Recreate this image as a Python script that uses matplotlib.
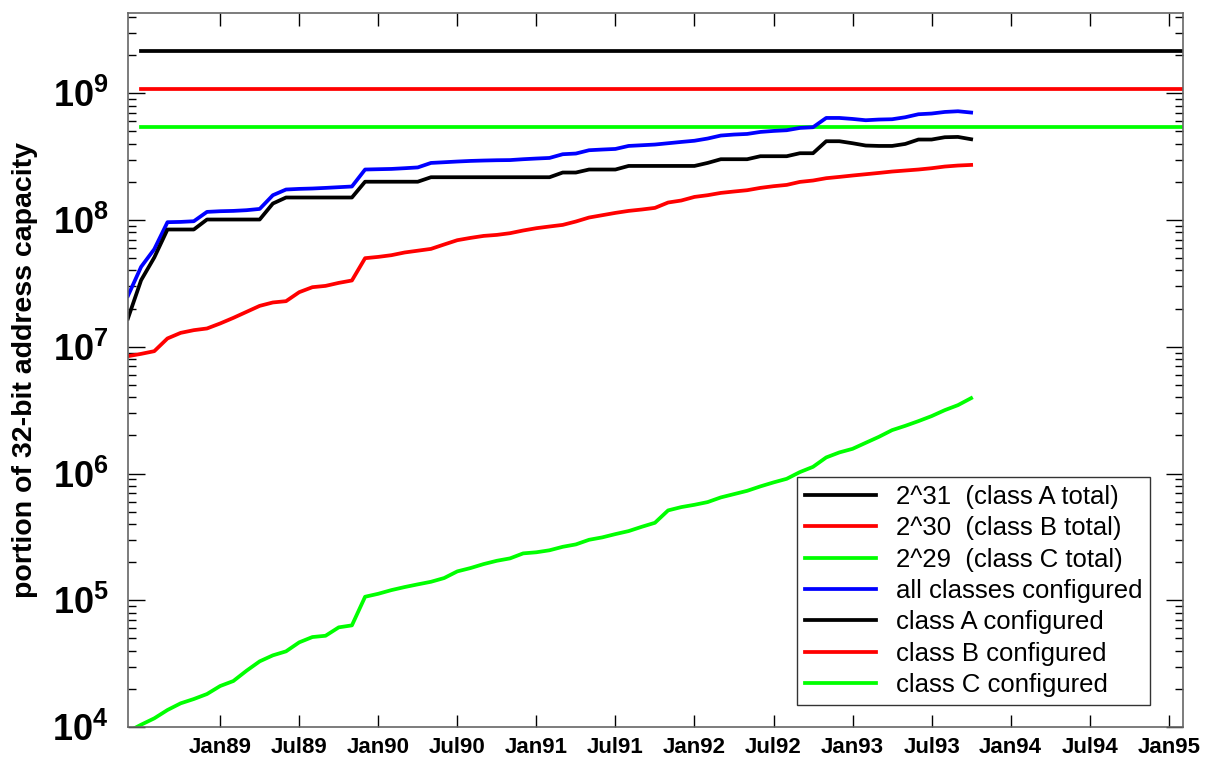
import numpy as np
import pandas as pd
import matplotlib
matplotlib.use("Agg")
import matplotlib.pyplot as plt
from matplotlib.ticker import LogLocator, NullFormatter

plt.rcParams['font.family'] = ['Liberation Sans', 'DejaVu Sans']
plt.rcParams['mathtext.fontset'] = 'custom'
plt.rcParams['mathtext.rm'] = 'Liberation Sans'
plt.rcParams['mathtext.bf'] = 'Liberation Sans:bold'

# ---- data ----
months = pd.date_range('1988-06-01', '1993-10-01', freq='MS')
xdates = months.year + (months.month - 1) / 12.0

class_a_total = 2.0 ** 31
class_b_total = 2.0 ** 30
class_c_total = 2.0 ** 29
totals_start = 1988.5

all_configured = [2.52e7, 4.27e7, 5.89e7, 9.61e7, 9.66e7, 9.78e7, 1.159e8, 1.173e8, 1.180e8, 1.195e8,
                  1.223e8, 1.569e8, 1.740e8, 1.760e8, 1.772e8, 1.792e8, 1.815e8, 1.838e8, 2.502e8, 2.516e8,
                  2.529e8, 2.562e8, 2.599e8, 2.820e8, 2.856e8, 2.893e8, 2.925e8, 2.946e8, 2.962e8, 2.97e8,
                  3.017e8, 3.055e8, 3.088e8, 3.303e8, 3.345e8, 3.552e8, 3.597e8, 3.636e8, 3.840e8, 3.889e8,
                  3.939e8, 4.033e8, 4.129e8, 4.220e8, 4.392e8, 4.638e8, 4.723e8, 4.775e8, 4.952e8, 5.043e8,
                  5.108e8, 5.325e8, 5.394e8, 6.386e8, 6.386e8, 6.271e8, 6.125e8, 6.203e8, 6.237e8, 6.467e8,
                  6.830e8, 6.917e8, 7.120e8, 7.211e8, 7.043e8]

class_a = [1.672e7, 3.351e7, 5.063e7, 8.417e7, 8.417e7, 8.417e7, 1.009e8, 1.009e8, 1.009e8, 1.009e8,
           1.009e8, 1.349e8, 1.505e8, 1.505e8, 1.505e8, 1.505e8, 1.505e8, 1.505e8, 2.005e8, 2.005e8,
           2.005e8, 2.005e8, 2.005e8, 2.175e8, 2.175e8, 2.175e8, 2.175e8, 2.175e8, 2.175e8, 2.175e8,
           2.175e8, 2.175e8, 2.175e8, 2.369e8, 2.369e8, 2.502e8, 2.502e8, 2.502e8, 2.67e8, 2.67e8,
           2.67e8, 2.67e8, 2.67e8, 2.67e8, 2.820e8, 3.017e8, 3.017e8, 3.017e8, 3.186e8, 3.186e8,
           3.186e8, 3.364e8, 3.364e8, 4.183e8, 4.183e8, 4.033e8, 3.868e8, 3.840e8, 3.840e8, 3.982e8,
           4.314e8, 4.314e8, 4.498e8, 4.523e8, 4.337e8]

class_b = [8.43e6, 8.79e6, 9.23e6, 1.163e7, 1.287e7, 1.352e7, 1.394e7, 1.527e7, 1.690e7, 1.885e7,
           2.102e7, 2.236e7, 2.289e7, 2.695e7, 2.951e7, 3.022e7, 3.191e7, 3.333e7, 4.998e7, 5.117e7,
           5.278e7, 5.543e7, 5.727e7, 5.917e7, 6.410e7, 6.930e7, 7.225e7, 7.492e7, 7.630e7, 7.869e7,
           8.265e7, 8.617e7, 8.887e7, 9.150e7, 9.73e7, 1.046e8, 1.091e8, 1.138e8, 1.180e8, 1.210e8,
           1.246e8, 1.374e8, 1.425e8, 1.521e8, 1.569e8, 1.636e8, 1.678e8, 1.718e8, 1.792e8, 1.848e8,
           1.892e8, 1.998e8, 2.049e8, 2.137e8, 2.188e8, 2.244e8, 2.297e8, 2.352e8, 2.412e8, 2.457e8,
           2.502e8, 2.562e8, 2.641e8, 2.690e8, 2.720e8]

class_c = [9.2e3, 1.043e4, 1.171e4, 1.362e4, 1.538e4, 1.663e4, 1.821e4, 2.106e4, 2.306e4, 2.780e4,
           3.297e4, 3.677e4, 3.954e4, 4.656e4, 5.127e4, 5.248e4, 6.114e4, 6.339e4, 1.066e5, 1.125e5,
           1.203e5, 1.271e5, 1.335e5, 1.399e5, 1.497e5, 1.690e5, 1.795e5, 1.930e5, 2.049e5, 2.140e5,
           2.344e5, 2.391e5, 2.480e5, 2.641e5, 2.759e5, 3.000e5, 3.134e5, 3.327e5, 3.513e5, 3.799e5,
           4.086e5, 5.117e5, 5.433e5, 5.665e5, 5.950e5, 6.478e5, 6.878e5, 7.302e5, 7.913e5, 8.506e5,
           9.083e5, 1.026e6, 1.129e6, 1.339e6, 1.467e6, 1.566e6, 1.747e6, 1.947e6, 2.199e6, 2.378e6,
           2.590e6, 2.837e6, 3.162e6, 3.463e6, 3.932e6]

xtick_pos = [1989.0, 1989.5, 1990.0, 1990.5, 1991.0, 1991.5, 1992.0, 1992.5,
             1993.0, 1993.5, 1994.0, 1994.5, 1995.0]
xtick_labels = ['Jan89', 'Jul89', 'Jan90', 'Jul90', 'Jan91', 'Jul91', 'Jan92', 'Jul92',
                'Jan93', 'Jul93', 'Jan94', 'Jul94', 'Jan95']
ytick_pos = [1e4, 1e5, 1e6, 1e7, 1e8, 1e9]
ytick_labels = [r'$\mathbf{10^{4}}$', r'$\mathbf{10^{5}}$', r'$\mathbf{10^{6}}$',
                r'$\mathbf{10^{7}}$', r'$\mathbf{10^{8}}$', r'$\mathbf{10^{9}}$']

labels = ['2^31  (class A total)', '2^30  (class B total)', '2^29  (class C total)',
          'all classes configured', 'class A configured', 'class B configured', 'class C configured']

# ---- figure ----
fig = plt.figure(figsize=(12.07, 7.57), dpi=100)
ax = fig.add_axes([0.1060, 0.0396, 0.8741, 0.9432])

xmin, xmax = 1988.4167, 1995.09
lw = 2.7
ax.plot([totals_start, xmax + 1], [class_a_total, class_a_total], color='#000000', lw=lw, label=labels[0])
ax.plot([totals_start, xmax + 1], [class_b_total, class_b_total], color='#ff0000', lw=lw, label=labels[1])
ax.plot([totals_start, xmax + 1], [class_c_total, class_c_total], color='#00ff00', lw=lw, label=labels[2])
ax.plot(xdates, all_configured, color='#0000ff', lw=lw, label=labels[3])
ax.plot(xdates, class_a, color='#000000', lw=lw, label=labels[4])
ax.plot(xdates, class_b, color='#ff0000', lw=lw, label=labels[5])
ax.plot(xdates, class_c, color='#00ff00', lw=lw, label=labels[6])

ax.set_yscale('log')
ax.set_xlim(xmin, xmax)
ax.set_ylim(1e4, 2.0 ** 32)

ax.set_xticks(xtick_pos)
ax.set_xticklabels(xtick_labels, fontsize=16, fontweight='bold')
ax.set_yticks(ytick_pos)
ax.set_yticklabels(ytick_labels, fontsize=26)
ax.yaxis.set_minor_locator(LogLocator(base=10, subs=np.arange(2, 10)))
ax.yaxis.set_minor_formatter(NullFormatter())

ax.tick_params(axis='both', which='both', direction='in', top=True, right=True, colors='#000000')
ax.tick_params(axis='x', which='major', length=9, width=1, pad=7)
ax.tick_params(axis='y', which='major', length=12, width=1, pad=14)
ax.tick_params(axis='y', which='minor', length=6, width=1)
for s in ax.spines.values():
    s.set_color('#666666')
    s.set_linewidth(1.2)

ax.set_ylabel('portion of 32-bit address capacity', fontsize=20.5, fontweight='bold')
ax.yaxis.set_label_coords(-0.085, 0.5)

leg = ax.legend(loc='lower right', bbox_to_anchor=(0.9687, 0.0308), borderaxespad=0,
                fontsize=18.5, frameon=True, fancybox=False, edgecolor='#000000',
                handlelength=2.8, handletextpad=0.75, labelspacing=0.29,
                borderpad=0.3)
leg.get_frame().set_linewidth(1.0)

fig.savefig('out.png', dpi=100)
